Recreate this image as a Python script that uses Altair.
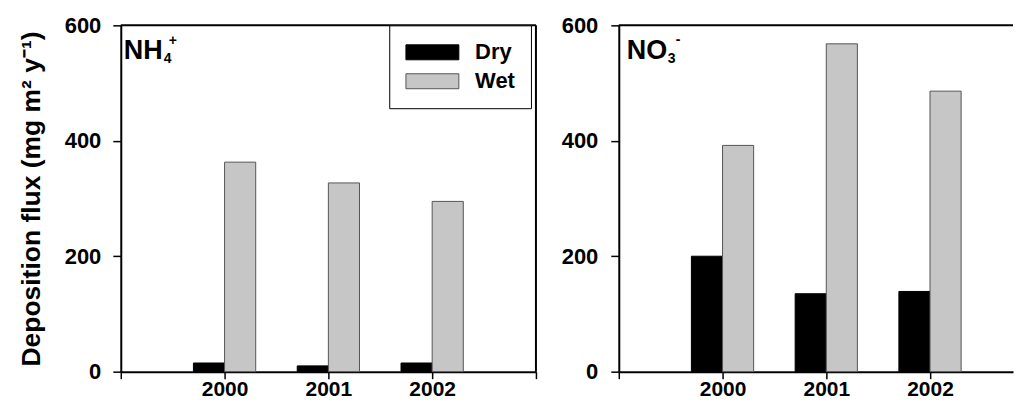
import altair as alt
import pandas as pd

years = ["2000", "2001", "2002"]
types = ["Dry", "Wet"]
nh4_dry = [15, 10, 15]
nh4_wet = [363, 327, 295]
no3_dry = [200, 135, 139]
no3_wet = [392, 568, 486]
y_ticks = [0, 200, 400, 600]
colors = ["#000000", "#c6c6c6"]
strokes = ["#000000", "#555555"]

FONT = "Liberation Sans"
BAR_W = 0.3


def make_df(dry, wet):
    rows = []
    for i, yr in enumerate(years):
        rows.append({"year": yr, "idx": i + 1, "type": "Dry", "value": dry[i]})
        rows.append({"year": yr, "idx": i + 1, "type": "Wet", "value": wet[i]})
    return pd.DataFrame(rows)


label_expr = " : ".join(
    [f"datum.value == {i + 1} ? '{yr}'" for i, yr in enumerate(years)]
) + " : ''"


def panel(dry, wet, xmax, xticks, show_title, legend, lab, right_border, yextent, ylabelpad):
    df = make_df(dry, wet)
    xscale = alt.Scale(domain=[0, xmax], nice=False, zero=False)
    yscale = alt.Scale(domain=[0, 600], nice=False)
    xaxis = alt.Axis(values=xticks, labelExpr=label_expr, grid=False, title=None,
                     tickSize=7, labelPadding=0, labelFontSize=21,
                     domainWidth=2, tickWidth=1.5, labelFlush=False)
    yaxis_kw = dict(values=y_ticks, grid=False, tickSize=8, labelPadding=ylabelpad,
                    labelFontSize=22, domainWidth=2, tickWidth=1.5,
                    minExtent=yextent, maxExtent=yextent)
    if show_title:
        yaxis = alt.Axis(title="Deposition flux (mg m² y⁻¹)", titleFontSize=26.5,
                         titlePadding=18, **yaxis_kw)
    else:
        yaxis = alt.Axis(title=None, **yaxis_kw)

    if legend:
        leg = alt.Legend(orient="none", legendX=269, legendY=0, title=None,
                         symbolType="M-1.37,-1H5.7V1H-1.37Z", symbolSize=225,
                         symbolStrokeColor="#444444", symbolStrokeWidth=1,
                         labelFont=FONT, labelFontWeight="bold", labelFontSize=22,
                         labelOffset=48, strokeColor="#000000", fillColor="#ffffff",
                         padding=16, rowPadding=7, labelColor="#000000")
    else:
        leg = None

    bars = alt.Chart(df).transform_calculate(
        x0=f"datum.idx + (datum.type == 'Dry' ? -{BAR_W} : 0)"
    ).transform_calculate(
        x1=f"datum.x0 + {BAR_W}"
    ).mark_bar(strokeWidth=1).encode(
        x=alt.X("x0:Q", scale=xscale, axis=xaxis),
        x2="x1:Q",
        y=alt.Y("value:Q", scale=yscale, axis=yaxis),
        y2=alt.datum(0),
        color=alt.Color("type:N", scale=alt.Scale(domain=types, range=colors), legend=leg),
        stroke=alt.Stroke("type:N", scale=alt.Scale(domain=types, range=strokes), legend=None),
    )

    one = alt.Data(values=[{}])
    layers = [bars]
    layers.append(alt.Chart(one).mark_rule(color="black", strokeWidth=2).encode(y=alt.datum(600)))
    if right_border:
        layers.append(alt.Chart(one).mark_rule(color="black", strokeWidth=2).encode(x=alt.datum(xmax)))
    # panel label: (text, fontSize, dx, dy) pieces
    for txt, fs, dx, dy in lab:
        layers.append(alt.Chart(one).mark_text(text=txt, font=FONT, fontWeight="bold",
                                               fontSize=fs, align="left", baseline="top",
                                               dx=dx, dy=dy, color="black")
                      .encode(x=alt.datum(0), y=alt.datum(600)))
    width = 416 if xmax == 4 else 395
    return alt.layer(*layers).properties(width=width, height=347)


nh4_label = [("NH", 27, 3, 13), ("4", 14, 43, 27), ("+", 14, 48, 9)]
no3_label = [("NO", 27, 8, 13), ("3", 14, 49, 27), ("-", 14, 57, 8)]

left = panel(nh4_dry, nh4_wet, 4, [0, 1, 2, 3, 4], True, True, nh4_label, True, 57, 12)
right = panel(no3_dry, no3_wet, 3.8, [0, 1, 2, 3], False, False, no3_label, False, 58, 13)

chart = alt.hconcat(left, right, spacing=24).resolve_scale(
    color="independent", stroke="independent", x="independent", y="independent"
).configure_view(stroke=None).configure_axis(
    labelFont=FONT, labelFontWeight="bold", labelColor="black",
    titleFont=FONT, titleFontWeight="bold", titleColor="black",
    domainColor="black", tickColor="black"
).properties(
    padding={"top": 6, "left": 11, "right": 0, "bottom": 0},
    background="white"
)

chart.save("out.html", embed_options={"renderer": "svg", "actions": False})
